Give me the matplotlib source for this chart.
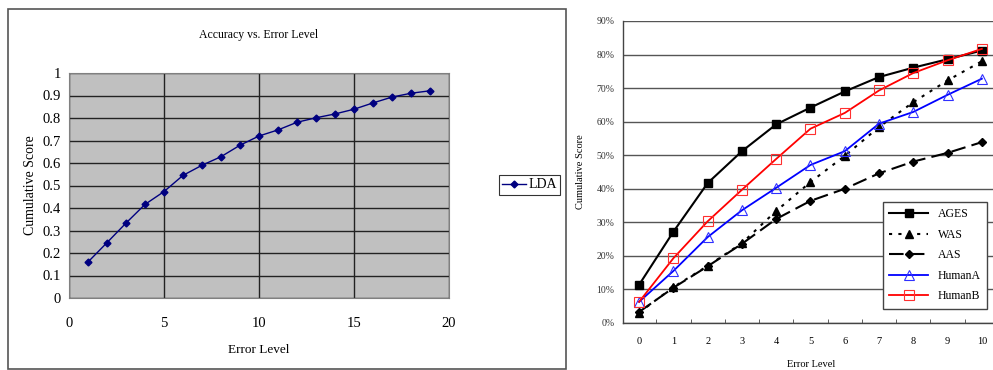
import numpy as np
import matplotlib
matplotlib.use("Agg")
from matplotlib import pyplot as plt
from matplotlib.patches import Rectangle
from matplotlib.ticker import FuncFormatter, FixedLocator

plt.rcParams['font.family'] = ['Liberation Serif', 'DejaVu Serif']

# left chart: LDA
lda_x = list(range(1, 20))
lda_y = [0.16, 0.246, 0.333, 0.416, 0.473, 0.545, 0.59, 0.628, 0.679, 0.72,
         0.747, 0.781, 0.801, 0.818, 0.839, 0.867, 0.893, 0.91, 0.921]

# right chart: cumulative score (%) per error level
levels = list(range(0, 11))
ages = [11.4, 27.2, 41.7, 51.2, 59.2, 64.2, 69.0, 73.3, 76.1, 78.6, 81.2]
was = [3.1, 10.7, 17.0, 23.8, 33.4, 42.0, 49.8, 58.4, 65.8, 72.3, 78.0]
aas = [3.3, 10.5, 16.9, 23.6, 31.0, 36.4, 40.0, 44.6, 48.1, 50.7, 53.9]
human_a = [6.3, 15.5, 25.6, 33.6, 40.3, 47.1, 51.2, 59.4, 62.9, 68.0, 72.8]
human_b = [6.3, 19.3, 30.3, 39.7, 48.9, 57.9, 62.6, 69.3, 74.5, 78.3, 81.7]

W, H = 993, 370
fig = plt.figure(figsize=(W / 100, H / 100), dpi=100)


def px_box(x0, y0, x1, y1):
    return [x0 / W, 1 - y1 / H, (x1 - x0) / W, (y1 - y0) / H]


# outer frame of the left chart
fig.patches.append(Rectangle((7.5 / W, 1 - 369 / H), (566 - 7.5) / W, (369 - 9) / H,
                             transform=fig.transFigure, fill=False,
                             edgecolor='#555555', lw=1.2))

# ---- left chart ----
ax1 = fig.add_axes(px_box(69, 73, 449, 298))
ax1.set_facecolor('#c0c0c0')
ax1.plot(lda_x, lda_y, color='#000080', lw=1, marker='D', ms=3.5, label='LDA')
ax1.set_xlim(0, 20)
ax1.set_ylim(0, 1)
ax1.set_xticks([0, 5, 10, 15, 20])
ax1.set_yticks(np.arange(0, 11) / 10)
ax1.set_yticklabels(['0', '0.1', '0.2', '0.3', '0.4', '0.5', '0.6', '0.7', '0.8', '0.9', '1'])
ax1.grid(True, color='#222222', lw=1)
ax1.set_axisbelow(True)
ax1.tick_params(length=0, labelsize=10.5)
ax1.tick_params(axis='x', pad=14)
ax1.tick_params(axis='y', pad=6)
for s in ax1.spines.values():
    s.set_color('#808080')
    s.set_linewidth(0.8)
ax1.set_title('Accuracy vs. Error Level', fontsize=8.5, pad=25)
ax1.set_xlabel('Error Level', fontsize=9.5, labelpad=10)
ax1.set_ylabel('Cumulative Score', fontsize=10, labelpad=4)
leg1 = ax1.legend(loc='upper left', bbox_to_anchor=(499 / W, 1 - 175 / H),
                  bbox_transform=fig.transFigure, fontsize=10, frameon=True,
                  fancybox=False, handlelength=1.7, borderpad=0.25,
                  handletextpad=0.15, borderaxespad=0)
leg1.get_frame().set_edgecolor('black')
leg1.get_frame().set_linewidth(0.8)

# ---- right chart ----
ax2 = fig.add_axes(px_box(623, 21, 999, 323))
ax2.plot(levels, ages, color='black', lw=1.5, marker='s', ms=6, label='AGES')
ax2.plot(levels, was, color='black', lw=1.5, ls=(0, (1.5, 3)), marker='^', ms=6, label='WAS')
ax2.plot(levels, aas, color='black', lw=1.5, ls=(0, (7, 3)), marker='D', ms=4.5, label='AAS')
ax2.plot(levels, human_a, color='blue', lw=1.3, marker='^', ms=6.5, mfc='none',
         mec='#3030ff', mew=0.8, label='HumanA')
ax2.plot(levels, human_b, color='red', lw=1.3, marker='s', ms=7, mfc='none',
         mec='#ff3030', mew=0.8, label='HumanB')
ax2.set_xlim(-0.47, 10.5)
ax2.set_ylim(0, 90)
ax2.set_yticks(np.arange(0, 100, 10))
ax2.yaxis.set_major_formatter(FuncFormatter(lambda v, p: '%d%%' % v))
ax2.set_xticks(levels)
ax2.xaxis.set_minor_locator(FixedLocator(np.arange(0.5, 10, 1)))
ax2.tick_params(axis='x', which='major', length=0, labelsize=7.5, pad=10)
ax2.tick_params(axis='x', which='minor', direction='in', length=3, color='#444444')
ax2.tick_params(axis='y', length=0, labelsize=7, pad=6, labelcolor='#333333')
ax2.yaxis.grid(True, color='#555555', lw=1)
ax2.set_axisbelow(True)
for side in ['top', 'right']:
    ax2.spines[side].set_visible(False)
for side in ['left', 'bottom']:
    ax2.spines[side].set_color('#444444')
    ax2.spines[side].set_linewidth(1)
ax2.set_xlabel('Error Level', fontsize=7.5, labelpad=10)
ax2.set_ylabel('Cumulative Score', fontsize=7.5, labelpad=8)
leg2 = ax2.legend(loc='upper left', bbox_to_anchor=(883 / W, 1 - 202 / H),
                  bbox_transform=fig.transFigure, fontsize=8.5, frameon=True,
                  fancybox=False, handlelength=3.3, borderpad=0.55,
                  labelspacing=0.72, framealpha=1, borderaxespad=0)
leg2.get_frame().set_edgecolor('#444444')
leg2.get_frame().set_linewidth(1)

fig.savefig('out.png', dpi=100)
